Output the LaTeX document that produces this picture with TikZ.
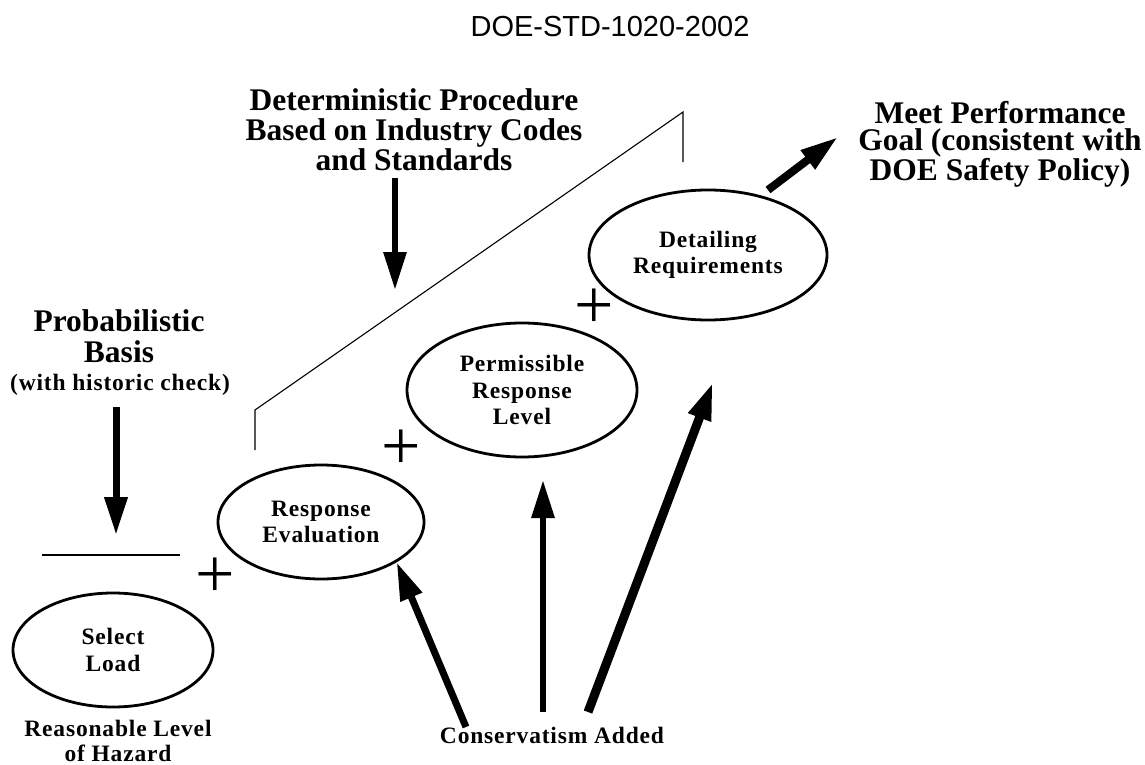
\documentclass[tikz,border=0pt]{standalone}
\usepackage{fontspec}
\setmainfont{Liberation Serif}
\newfontfamily\hdrfont{Liberation Sans}
\newfontfamily\spaced{Liberation Serif}[LetterSpace=3.5]
\usetikzlibrary{arrows.meta,shapes.geometric}
\begin{document}
\begin{tikzpicture}[x=1pt,y=-1pt,
  stage/.style={ellipse, draw, line width=2.8pt, inner sep=0pt, align=center,
    font=\spaced\fontsize{23.5}{26.5}\selectfont\bfseries},
  bigtxt/.style={align=center, inner sep=0pt, font=\fontsize{31.5}{30}\selectfont\bfseries},
  midtxt/.style={align=center, inner sep=0pt, font=\spaced\fontsize{23.5}{25}\selectfont\bfseries},
  plussign/.style={inner sep=0pt, font=\fontsize{70}{70}\selectfont},
  fatarrow/.style={line width=#1, -{Triangle[length=38pt,width=22pt]}},
  thinline/.style={line width=1.1pt, line join=miter},
]
\fill[white] (0,0) rectangle (1145,765);
\useasboundingbox (0,0) rectangle (1145,765);

% header
\node[anchor=base, inner sep=0pt, font=\hdrfont\fontsize{29}{29}\selectfont] (hdr) at (610,37) {DOE-STD-1020-2002};

% stages
\node[stage, minimum width=200pt, minimum height=114pt] (sel) at (113,650) {Select\\Load};
\node[stage, minimum width=206pt, minimum height=114pt] (resp) at (321,522) {Response\\Evaluation};
\node[stage, minimum width=230pt, minimum height=134pt] (perm) at (522,390) {Permissible\\Response\\Level};
\node[stage, minimum width=238pt, minimum height=130pt] (detl) at (708,255) {Detailing\\Requirements};

% plus signs
\node[plussign] (p1) at (215,578) {+};
\node[plussign] (p2) at (401,450) {+};
\node[plussign] (p3) at (594,309) {+};

% labels
\node[bigtxt, font=\fontsize{31.5}{31}\selectfont\bfseries] (prob) at (119,336.5) {Probabilistic\\Basis};
\node[anchor=base, inner sep=0pt, font=\spaced\fontsize{23.5}{25}\selectfont\bfseries] (probnote) at (120,390) {(with historic check)};
\node[bigtxt] (detp) at (414,130) {Deterministic Procedure\\Based on Industry Codes\\and Standards};
\node[bigtxt, font=\fontsize{31.5}{27}\selectfont\bfseries] (goal) at (1000,144) {Meet Performance\\Goal (consistent with\\DOE Safety Policy)};
\node[midtxt] (haz) at (118,740.5) {Reasonable Level\\of Hazard};
\node[anchor=base, inner sep=0pt, font=\spaced\fontsize{23.5}{25}\selectfont\bfseries] (cons) at (552,743) {Conservatism Added};

% bracket and rule
\coordinate (bA) at (255,450);
\coordinate (bB) at (255,410);
\coordinate (bC) at (683,112);
\coordinate (bD) at (683,162);
\draw[thinline] (bA) -- (bB) -- (bC) -- (bD);
\coordinate (rL) at (42,555);
\coordinate (rR) at (180,555);
\draw[line width=1.3pt] (rL) -- (rR);

% arrows
\coordinate (probS) at (116,407);
\coordinate (probE) at (116,535);
\draw[fatarrow=7pt] (probS) -- (probE);
\coordinate (detS) at (395,178);
\coordinate (detE) at (395,290);
\draw[fatarrow=6pt] (detS) -- (detE);
\coordinate (goalS) at (768,190);
\coordinate (goalE) at (838,137);
\draw[fatarrow=8pt] (goalS) -- (goalE);
\coordinate (c1) at (466,727);
\draw[fatarrow=7pt] (c1) -- (resp.-28);
\coordinate (c2) at (543,712);
\coordinate (c2E) at (543,480);
\draw[fatarrow=6pt] (c2) -- (c2E);
\coordinate (c3) at (588,712);
\coordinate (c3E) at (713,382);
\draw[fatarrow=9pt] (c3) -- (c3E);
\end{tikzpicture}
\end{document}
